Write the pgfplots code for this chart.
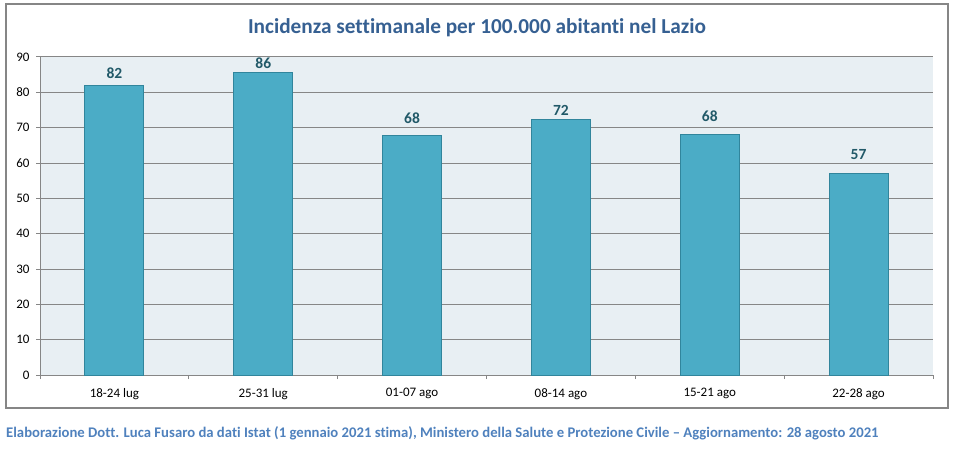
\documentclass[border=0pt]{standalone}
\usepackage{pgfplots}
\usepackage{pgfplotstable}
\pgfplotsset{compat=1.18}
\usepackage{fontspec}
\setmainfont{Carlito}[Ligatures={NoCommon}]
\definecolor{barfill}{RGB}{75,172,198}
\definecolor{barline}{RGB}{49,133,156}
\definecolor{lab}{RGB}{33,89,104}
\definecolor{titc}{RGB}{54,96,146}
\definecolor{footc}{RGB}{79,129,189}
\definecolor{bgc}{RGB}{232,239,243}
\definecolor{gridc}{RGB}{134,134,134}
\pgfplotstableread{
x y dy
0 82.0 2.7
1 85.7 -0.3
2 67.9 7.7
3 72.4 -0.3
4 68.2 8.7
5 56.9 10.7
}\datatable
\begin{document}
\begin{tikzpicture}[x=1pt,y=1pt]
\useasboundingbox (0,0) rectangle (958,448);
\draw[gridc, line width=1.5pt] (6,40) rectangle (948,444);
\begin{axis}[
  at={(40pt,73pt)}, anchor=south west,
  scale only axis, width=893pt, height=318pt,
  xmin=-0.5, xmax=5.5, ymin=0, ymax=90,
  axis background/.style={fill=bgc},
  axis lines*=left, axis line style={gridc, line width=1pt, -},
  xtick=data,
  xticklabels={18-24 lug,25-31 lug,01-07 ago,08-14 ago,15-21 ago,22-28 ago},
  major x tick style={draw=none},
  minor xtick={-0.5,0.5,1.5,2.5,3.5,4.5,5.5},
  minor x tick style={gridc, line width=1pt},
  ytick={0,10,...,90},
  y tick style={gridc, line width=1pt},
  tick align=outside, major tick length=4pt, minor tick length=4pt,
  ymajorgrids, grid style={gridc, line width=1pt},
  tick label style={font=\fontsize{13}{15}\selectfont, black},
  /pgf/number format/assume math mode=true,
  yticklabel style={xshift=-3pt},
  xticklabel style={yshift=-6pt},
  ybar, bar width=59pt,
  visualization depends on={\thisrow{dy} \as \dy},
  nodes near coords={\pgfmathprintnumber[fixed,precision=0]{\pgfplotspointmeta}},
  nodes near coords style={font=\bfseries\fontsize{15.5}{18}\selectfont, text=lab, anchor=south, yshift=\dy pt},
]
\addplot[fill=barfill, draw=barline, line width=1pt] table[x=x, y=y] {\datatable};
\end{axis}
\node[font=\bfseries\fontsize{21.3}{25}\selectfont, text=titc] at (477,420) {Incidenza settimanale per 100.000 abitanti nel Lazio};
\node[font=\bfseries\fontsize{14.7}{17}\selectfont, text=footc, anchor=west, inner sep=0pt] at (6,15) {Elaborazione Dott. Luca Fusaro da dati Istat (1 gennaio 2021 stima), Ministero della Salute e Protezione Civile – Aggiornamento: 28 agosto 2021};
\end{tikzpicture}
\end{document}
